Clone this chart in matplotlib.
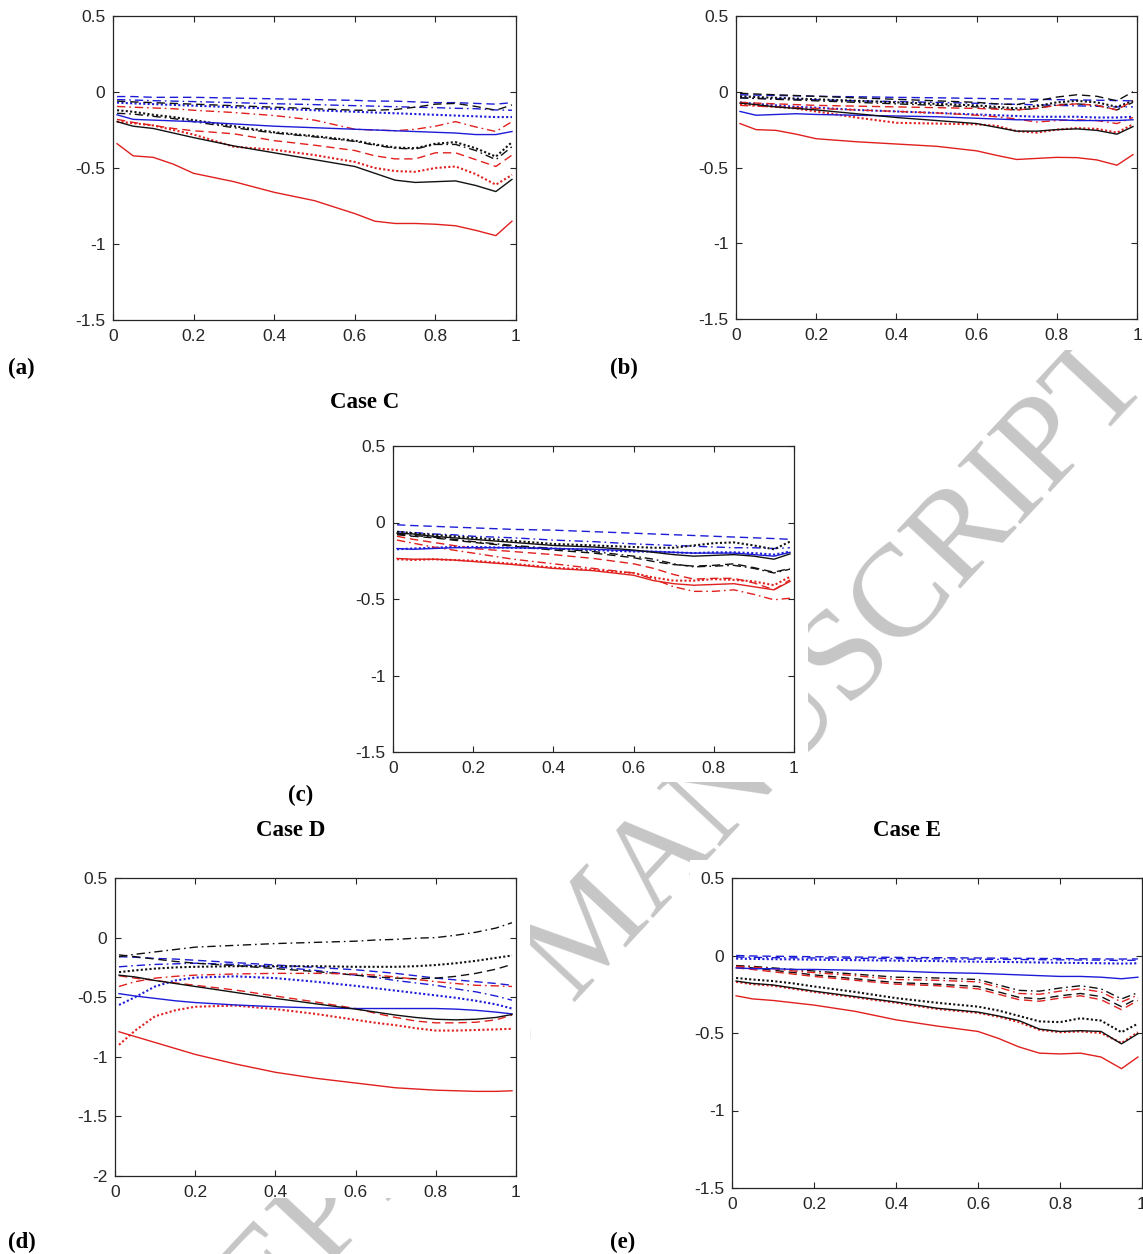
import matplotlib
matplotlib.use("Agg")
import matplotlib.pyplot as plt
from matplotlib.patches import Rectangle

plt.rcParams['axes.unicode_minus'] = False

W, H = 1143, 1254

# ---------------- data ----------------
X = [0.01, 0.05, 0.1, 0.15, 0.2, 0.3, 0.4, 0.5, 0.6, 0.65, 0.7, 0.75, 0.8, 0.85, 0.9, 0.95, 0.99]

X_TICKS = [0, 0.2, 0.4, 0.6, 0.8, 1]
X_TICK_LABELS = ["0", "0.2", "0.4", "0.6", "0.8", "1"]
Y_TICKS = [-1.5, -1, -0.5, 0, 0.5]
Y_TICK_LABELS = ["-1.5", "-1", "-0.5", "0", "0.5"]
Y_TICKS_D = [-2, -1.5, -1, -0.5, 0, 0.5]
Y_TICK_LABELS_D = ["-2", "-1.5", "-1", "-0.5", "0", "0.5"]

PANEL_LABELS = ["(a)", "(b)", "(c)", "(d)", "(e)"]
CASE_TITLES = ["Case C", "Case D", "Case E"]
WATERMARK = "ACCEPTED MANUSCRIPT"

# Panel (a)
A_RED_SOLID = [-0.34, -0.42, -0.43, -0.475, -0.535, -0.59, -0.66, -0.715, -0.80, -0.85, -0.865, -0.865, -0.87, -0.88, -0.91, -0.945, -0.85]
A_BLACK_SOLID = [-0.195, -0.225, -0.24, -0.27, -0.30, -0.355, -0.40, -0.445, -0.49, -0.535, -0.58, -0.595, -0.59, -0.585, -0.615, -0.655, -0.575]
A_BLUE_SOLID = [-0.15, -0.18, -0.185, -0.19, -0.195, -0.21, -0.225, -0.235, -0.245, -0.25, -0.255, -0.26, -0.265, -0.27, -0.28, -0.28, -0.26]
A_RED_DASHED = [-0.18, -0.20, -0.22, -0.24, -0.255, -0.275, -0.32, -0.35, -0.385, -0.42, -0.44, -0.44, -0.40, -0.40, -0.445, -0.49, -0.415]
A_BLACK_DASHED = [-0.06, -0.065, -0.07, -0.075, -0.08, -0.09, -0.10, -0.11, -0.12, -0.12, -0.115, -0.10, -0.08, -0.075, -0.095, -0.12, -0.085]
A_BLUE_DASHED = [-0.03, -0.03, -0.035, -0.035, -0.035, -0.04, -0.045, -0.05, -0.055, -0.06, -0.06, -0.065, -0.07, -0.07, -0.075, -0.08, -0.07]
A_RED_DOTTED = [-0.195, -0.205, -0.22, -0.25, -0.28, -0.36, -0.38, -0.415, -0.46, -0.50, -0.52, -0.525, -0.50, -0.49, -0.54, -0.61, -0.545]
A_BLACK_DOTTED = [-0.12, -0.13, -0.15, -0.165, -0.185, -0.225, -0.265, -0.29, -0.32, -0.345, -0.365, -0.37, -0.34, -0.33, -0.37, -0.425, -0.33]
A_BLUE_DOTTED = [-0.07, -0.075, -0.08, -0.085, -0.09, -0.10, -0.11, -0.12, -0.13, -0.135, -0.14, -0.145, -0.15, -0.155, -0.16, -0.165, -0.165]
A_RED_DASHDOT = [-0.095, -0.10, -0.105, -0.11, -0.12, -0.135, -0.155, -0.185, -0.245, -0.25, -0.255, -0.245, -0.225, -0.195, -0.23, -0.26, -0.195]
A_BLACK_DASHDOT = [-0.14, -0.145, -0.16, -0.175, -0.195, -0.235, -0.27, -0.295, -0.325, -0.35, -0.37, -0.375, -0.345, -0.345, -0.385, -0.445, -0.36]
A_BLUE_DASHDOT = [-0.05, -0.053, -0.057, -0.06, -0.063, -0.07, -0.077, -0.083, -0.09, -0.093, -0.097, -0.10, -0.103, -0.107, -0.11, -0.118, -0.12]

# Panel (b)
B_RED_SOLID = [-0.21, -0.25, -0.255, -0.28, -0.31, -0.33, -0.345, -0.36, -0.39, -0.42, -0.447, -0.44, -0.433, -0.435, -0.45, -0.485, -0.415]
B_BLACK_SOLID = [-0.075, -0.085, -0.10, -0.11, -0.12, -0.145, -0.17, -0.19, -0.21, -0.235, -0.26, -0.26, -0.25, -0.245, -0.255, -0.28, -0.23]
B_BLUE_SOLID = [-0.13, -0.155, -0.15, -0.145, -0.15, -0.155, -0.16, -0.165, -0.175, -0.18, -0.185, -0.185, -0.185, -0.19, -0.19, -0.19, -0.185]
B_RED_DASHED = [-0.07, -0.075, -0.08, -0.085, -0.09, -0.095, -0.10, -0.105, -0.11, -0.115, -0.12, -0.11, -0.09, -0.08, -0.09, -0.12, -0.06]
B_BLACK_DASHED = [-0.01, -0.015, -0.02, -0.025, -0.03, -0.04, -0.05, -0.06, -0.07, -0.08, -0.085, -0.06, -0.035, -0.02, -0.03, -0.06, 0.0]
B_BLUE_DASHED = [-0.02, -0.022, -0.025, -0.027, -0.03, -0.033, -0.037, -0.04, -0.044, -0.046, -0.048, -0.05, -0.052, -0.054, -0.056, -0.058, -0.06]
B_RED_DOTTED = [-0.08, -0.09, -0.10, -0.11, -0.13, -0.17, -0.205, -0.21, -0.215, -0.225, -0.26, -0.27, -0.25, -0.24, -0.245, -0.27, -0.215]
B_BLACK_DOTTED = [-0.03, -0.035, -0.04, -0.045, -0.05, -0.06, -0.07, -0.08, -0.09, -0.10, -0.11, -0.095, -0.07, -0.06, -0.07, -0.10, -0.06]
B_BLUE_DOTTED = [-0.07, -0.08, -0.09, -0.10, -0.105, -0.12, -0.13, -0.14, -0.15, -0.155, -0.16, -0.165, -0.165, -0.165, -0.17, -0.17, -0.165]
B_RED_DASHDOT = [-0.09, -0.095, -0.10, -0.105, -0.11, -0.12, -0.13, -0.14, -0.155, -0.165, -0.18, -0.20, -0.19, -0.185, -0.19, -0.21, -0.17]
B_BLACK_DASHDOT = [-0.04, -0.045, -0.05, -0.055, -0.06, -0.07, -0.08, -0.09, -0.10, -0.11, -0.12, -0.11, -0.085, -0.08, -0.09, -0.12, -0.07]
B_BLUE_DASHDOT = [-0.04, -0.043, -0.046, -0.05, -0.053, -0.06, -0.065, -0.07, -0.076, -0.08, -0.083, -0.086, -0.09, -0.093, -0.096, -0.10, -0.10]

# Panel (c)
C_RED_SOLID = [-0.235, -0.24, -0.24, -0.245, -0.255, -0.275, -0.30, -0.315, -0.345, -0.38, -0.40, -0.41, -0.405, -0.40, -0.42, -0.44, -0.385]
C_BLACK_SOLID = [-0.07, -0.075, -0.09, -0.10, -0.11, -0.13, -0.15, -0.16, -0.18, -0.195, -0.21, -0.22, -0.215, -0.21, -0.22, -0.24, -0.205]
C_BLUE_SOLID = [-0.17, -0.175, -0.17, -0.165, -0.165, -0.165, -0.17, -0.175, -0.185, -0.19, -0.195, -0.20, -0.20, -0.20, -0.21, -0.22, -0.195]
C_RED_DASHED = [-0.09, -0.11, -0.13, -0.15, -0.17, -0.19, -0.21, -0.235, -0.27, -0.30, -0.34, -0.37, -0.365, -0.365, -0.395, -0.44, -0.375]
C_BLACK_DASHED = [-0.08, -0.09, -0.10, -0.115, -0.13, -0.155, -0.18, -0.20, -0.23, -0.255, -0.275, -0.285, -0.28, -0.27, -0.295, -0.325, -0.30]
C_BLUE_DASHED = [-0.015, -0.02, -0.025, -0.03, -0.035, -0.045, -0.05, -0.06, -0.07, -0.075, -0.08, -0.085, -0.09, -0.095, -0.10, -0.105, -0.11]
C_RED_DOTTED = [-0.24, -0.245, -0.24, -0.245, -0.25, -0.27, -0.295, -0.31, -0.33, -0.36, -0.38, -0.38, -0.37, -0.375, -0.385, -0.41, -0.355]
C_BLACK_DOTTED = [-0.06, -0.07, -0.08, -0.09, -0.10, -0.12, -0.14, -0.15, -0.16, -0.165, -0.165, -0.15, -0.135, -0.13, -0.15, -0.175, -0.125]
C_BLUE_DOTTED = [-0.175, -0.17, -0.165, -0.16, -0.16, -0.165, -0.17, -0.18, -0.19, -0.19, -0.195, -0.20, -0.195, -0.195, -0.20, -0.21, -0.19]
C_RED_DASHDOT = [-0.115, -0.135, -0.16, -0.18, -0.20, -0.24, -0.27, -0.30, -0.33, -0.37, -0.42, -0.45, -0.45, -0.44, -0.47, -0.505, -0.495]
C_BLACK_DASHDOT = [-0.075, -0.085, -0.095, -0.11, -0.125, -0.15, -0.17, -0.19, -0.22, -0.24, -0.27, -0.29, -0.285, -0.28, -0.30, -0.33, -0.305]
C_BLUE_DASHDOT = [-0.06, -0.065, -0.075, -0.08, -0.09, -0.10, -0.115, -0.125, -0.14, -0.145, -0.15, -0.155, -0.16, -0.165, -0.165, -0.17, -0.165]

# Panel (d)
D_RED_SOLID = [-0.79, -0.83, -0.88, -0.93, -0.98, -1.06, -1.13, -1.18, -1.22, -1.24, -1.26, -1.27, -1.28, -1.285, -1.29, -1.29, -1.285]
D_BLACK_SOLID = [-0.315, -0.33, -0.36, -0.385, -0.41, -0.46, -0.51, -0.555, -0.60, -0.625, -0.65, -0.67, -0.685, -0.69, -0.685, -0.67, -0.645]
D_BLUE_SOLID = [-0.47, -0.49, -0.51, -0.53, -0.545, -0.565, -0.58, -0.59, -0.595, -0.595, -0.595, -0.595, -0.595, -0.60, -0.61, -0.625, -0.64]
D_RED_DASHED = [-0.32, -0.34, -0.36, -0.38, -0.40, -0.44, -0.49, -0.54, -0.595, -0.635, -0.67, -0.70, -0.715, -0.715, -0.71, -0.69, -0.65]
D_BLACK_DASHED = [-0.145, -0.16, -0.18, -0.20, -0.215, -0.235, -0.26, -0.285, -0.315, -0.33, -0.34, -0.345, -0.34, -0.325, -0.30, -0.265, -0.225]
D_BLUE_DASHED = [-0.16, -0.165, -0.175, -0.18, -0.19, -0.21, -0.23, -0.25, -0.27, -0.285, -0.30, -0.32, -0.34, -0.355, -0.37, -0.385, -0.40]
D_RED_DOTTED = [-0.90, -0.78, -0.66, -0.61, -0.58, -0.57, -0.60, -0.64, -0.69, -0.715, -0.735, -0.76, -0.78, -0.78, -0.775, -0.77, -0.765]
D_BLACK_DOTTED = [-0.29, -0.275, -0.26, -0.25, -0.245, -0.24, -0.24, -0.24, -0.245, -0.245, -0.245, -0.24, -0.23, -0.215, -0.195, -0.17, -0.15]
D_BLUE_DOTTED = [-0.565, -0.50, -0.41, -0.36, -0.335, -0.325, -0.34, -0.37, -0.405, -0.425, -0.445, -0.465, -0.485, -0.505, -0.53, -0.56, -0.595]
D_RED_DASHDOT = [-0.41, -0.37, -0.34, -0.325, -0.315, -0.305, -0.30, -0.30, -0.305, -0.315, -0.33, -0.35, -0.37, -0.385, -0.40, -0.405, -0.41]
D_BLACK_DASHDOT = [-0.16, -0.14, -0.12, -0.10, -0.08, -0.065, -0.05, -0.04, -0.03, -0.02, -0.015, -0.005, 0.0, 0.02, 0.045, 0.08, 0.125]
D_BLUE_DASHDOT = [-0.245, -0.235, -0.225, -0.22, -0.215, -0.225, -0.245, -0.275, -0.315, -0.335, -0.36, -0.38, -0.40, -0.43, -0.455, -0.49, -0.525]

# Panel (e)
E_RED_SOLID = [-0.26, -0.28, -0.29, -0.305, -0.32, -0.36, -0.415, -0.455, -0.49, -0.535, -0.59, -0.63, -0.635, -0.63, -0.655, -0.73, -0.655]
E_BLACK_SOLID = [-0.165, -0.18, -0.19, -0.21, -0.23, -0.265, -0.30, -0.34, -0.365, -0.39, -0.42, -0.475, -0.49, -0.485, -0.49, -0.57, -0.505]
E_BLUE_SOLID = [-0.08, -0.085, -0.085, -0.09, -0.09, -0.095, -0.10, -0.11, -0.115, -0.12, -0.125, -0.13, -0.135, -0.135, -0.14, -0.15, -0.14]
E_RED_DASHED = [-0.08, -0.09, -0.105, -0.12, -0.135, -0.16, -0.185, -0.195, -0.215, -0.25, -0.285, -0.295, -0.275, -0.26, -0.285, -0.35, -0.29]
E_BLACK_DASHED = [-0.07, -0.08, -0.095, -0.11, -0.125, -0.15, -0.175, -0.185, -0.20, -0.235, -0.27, -0.28, -0.26, -0.245, -0.265, -0.33, -0.275]
E_BLUE_DASHED = [0.0, -0.003, -0.005, -0.006, -0.008, -0.01, -0.012, -0.014, -0.016, -0.017, -0.018, -0.019, -0.02, -0.021, -0.022, -0.023, -0.022]
E_RED_DOTTED = [-0.17, -0.185, -0.195, -0.215, -0.235, -0.27, -0.305, -0.345, -0.37, -0.395, -0.43, -0.48, -0.495, -0.49, -0.50, -0.565, -0.495]
E_BLACK_DOTTED = [-0.145, -0.155, -0.165, -0.18, -0.20, -0.235, -0.275, -0.305, -0.33, -0.355, -0.39, -0.425, -0.43, -0.405, -0.42, -0.495, -0.44]
E_BLUE_DOTTED = [-0.02, -0.022, -0.024, -0.025, -0.027, -0.03, -0.033, -0.036, -0.04, -0.041, -0.043, -0.045, -0.047, -0.048, -0.05, -0.052, -0.05]
E_RED_DASHDOT = [-0.07, -0.075, -0.085, -0.10, -0.11, -0.13, -0.155, -0.16, -0.17, -0.205, -0.245, -0.25, -0.23, -0.215, -0.235, -0.30, -0.255]
E_BLACK_DASHDOT = [-0.065, -0.07, -0.08, -0.09, -0.10, -0.12, -0.14, -0.145, -0.155, -0.19, -0.225, -0.23, -0.21, -0.195, -0.215, -0.28, -0.24]
E_BLUE_DASHDOT = [-0.01, -0.012, -0.014, -0.015, -0.016, -0.018, -0.02, -0.022, -0.024, -0.025, -0.026, -0.027, -0.028, -0.029, -0.03, -0.032, -0.03]

# ---------------- styling ----------------
RED = '#e0201e'
BLACK = '#111111'
BLUE = '#1c1cd8'
AXC = '#262626'

STYLES = {
    'solid': dict(linestyle='-', lw=1.0),
    'dashed': dict(linestyle=(0, (6, 3.5)), lw=1.0),
    'dotted': dict(linestyle=(0, (1, 1.1)), lw=1.5),
    'dashdot': dict(linestyle=(0, (6, 2.8, 1.2, 2.8)), lw=1.0),
}


def series(red_s, blk_s, blu_s, red_d, blk_d, blu_d, red_o, blk_o, blu_o, red_dd, blk_dd, blu_dd):
    return [
        (blu_d, BLUE, 'dashed'), (blu_dd, BLUE, 'dashdot'), (blu_o, BLUE, 'dotted'),
        (blk_d, BLACK, 'dashed'), (blk_dd, BLACK, 'dashdot'), (blk_o, BLACK, 'dotted'),
        (red_d, RED, 'dashed'), (red_dd, RED, 'dashdot'), (red_o, RED, 'dotted'),
        (blu_s, BLUE, 'solid'), (blk_s, BLACK, 'solid'), (red_s, RED, 'solid'),
    ]


PANEL_SERIES = [
    series(A_RED_SOLID, A_BLACK_SOLID, A_BLUE_SOLID, A_RED_DASHED, A_BLACK_DASHED, A_BLUE_DASHED,
           A_RED_DOTTED, A_BLACK_DOTTED, A_BLUE_DOTTED, A_RED_DASHDOT, A_BLACK_DASHDOT, A_BLUE_DASHDOT),
    series(B_RED_SOLID, B_BLACK_SOLID, B_BLUE_SOLID, B_RED_DASHED, B_BLACK_DASHED, B_BLUE_DASHED,
           B_RED_DOTTED, B_BLACK_DOTTED, B_BLUE_DOTTED, B_RED_DASHDOT, B_BLACK_DASHDOT, B_BLUE_DASHDOT),
    series(C_RED_SOLID, C_BLACK_SOLID, C_BLUE_SOLID, C_RED_DASHED, C_BLACK_DASHED, C_BLUE_DASHED,
           C_RED_DOTTED, C_BLACK_DOTTED, C_BLUE_DOTTED, C_RED_DASHDOT, C_BLACK_DASHDOT, C_BLUE_DASHDOT),
    series(D_RED_SOLID, D_BLACK_SOLID, D_BLUE_SOLID, D_RED_DASHED, D_BLACK_DASHED, D_BLUE_DASHED,
           D_RED_DOTTED, D_BLACK_DOTTED, D_BLUE_DOTTED, D_RED_DASHDOT, D_BLACK_DASHDOT, D_BLUE_DASHDOT),
    series(E_RED_SOLID, E_BLACK_SOLID, E_BLUE_SOLID, E_RED_DASHED, E_BLACK_DASHED, E_BLUE_DASHED,
           E_RED_DOTTED, E_BLACK_DOTTED, E_BLUE_DOTTED, E_RED_DASHDOT, E_BLACK_DASHDOT, E_BLUE_DASHDOT),
]

# axes boxes in pixels: left, top, right, bottom
PANEL_BOXES = [(113, 16, 516, 320), (736, 16, 1137, 319), (393, 446, 794, 752),
               (115, 878, 516, 1176), (732, 878, 1142, 1188)]
# white image regions behind each panel (cover the watermark)
COVER_BOXES = [(70, 0, 530, 352), (690, 0, 1143, 350), (350, 430, 808, 782),
               (70, 862, 530, 1198), (690, 860, 1143, 1215)]

fig = plt.figure(figsize=(W / 100, H / 100), dpi=100)
fig.patch.set_facecolor('white')


def fx(px):
    return px / W


def fy(py):
    return 1 - py / H


# watermark (sits behind the panel images)
fig.text(fx(596), fy(933), WATERMARK, rotation=47, rotation_mode='anchor',
         ha='center', va='center', fontsize=95, family='Liberation Serif',
         color='#c6c6c6', zorder=-3)
for (x0, y0, x1, y1) in COVER_BOXES:
    fig.add_artist(Rectangle((fx(x0), fy(y1)), fx(x1) - fx(x0), fy(y0) - fy(y1),
                             transform=fig.transFigure, facecolor='white',
                             edgecolor='none', zorder=-2))

for i, ((l, t, r, b), ser) in enumerate(zip(PANEL_BOXES, PANEL_SERIES)):
    ax = fig.add_axes([fx(l), fy(b), fx(r) - fx(l), fy(t) - fy(b)])
    for vals, col, st in ser:
        ax.plot(X, vals, color=col, **STYLES[st])
    ax.set_xlim(0, 1)
    if i == 3:
        ax.set_ylim(-2, 0.5)
        ax.set_yticks(Y_TICKS_D)
        ax.set_yticklabels(Y_TICK_LABELS_D)
    else:
        ax.set_ylim(-1.5, 0.5)
        ax.set_yticks(Y_TICKS)
        ax.set_yticklabels(Y_TICK_LABELS)
    ax.set_xticks(X_TICKS)
    ax.set_xticklabels(X_TICK_LABELS)
    ax.tick_params(direction='in', length=4, width=0.8, top=True, right=True,
                   colors=AXC, labelsize=12.5)
    ax.tick_params(axis='x', pad=6.5)
    ax.tick_params(axis='y', pad=5.5)
    for lab in ax.get_xticklabels() + ax.get_yticklabels():
        lab.set_family('Liberation Sans')
    for sp in ax.spines.values():
        sp.set_color(AXC)
        sp.set_linewidth(0.9)

LABEL_FONT = dict(family='Liberation Serif', fontweight='bold', fontsize=16.5,
                  color='black', va='center')
LABEL_POS = [(8, 368), (610, 368), (288, 795), (8, 1242), (610, 1242)]
for txt, (px, py) in zip(PANEL_LABELS, LABEL_POS):
    fig.text(fx(px), fy(py), txt, ha='left', **LABEL_FONT)
TITLE_POS = [(365, 402), (291, 830), (907, 830)]
for txt, (px, py) in zip(CASE_TITLES, TITLE_POS):
    fig.text(fx(px), fy(py), txt, ha='center', **LABEL_FONT)

fig.savefig('out.png', dpi=100, facecolor='white')
